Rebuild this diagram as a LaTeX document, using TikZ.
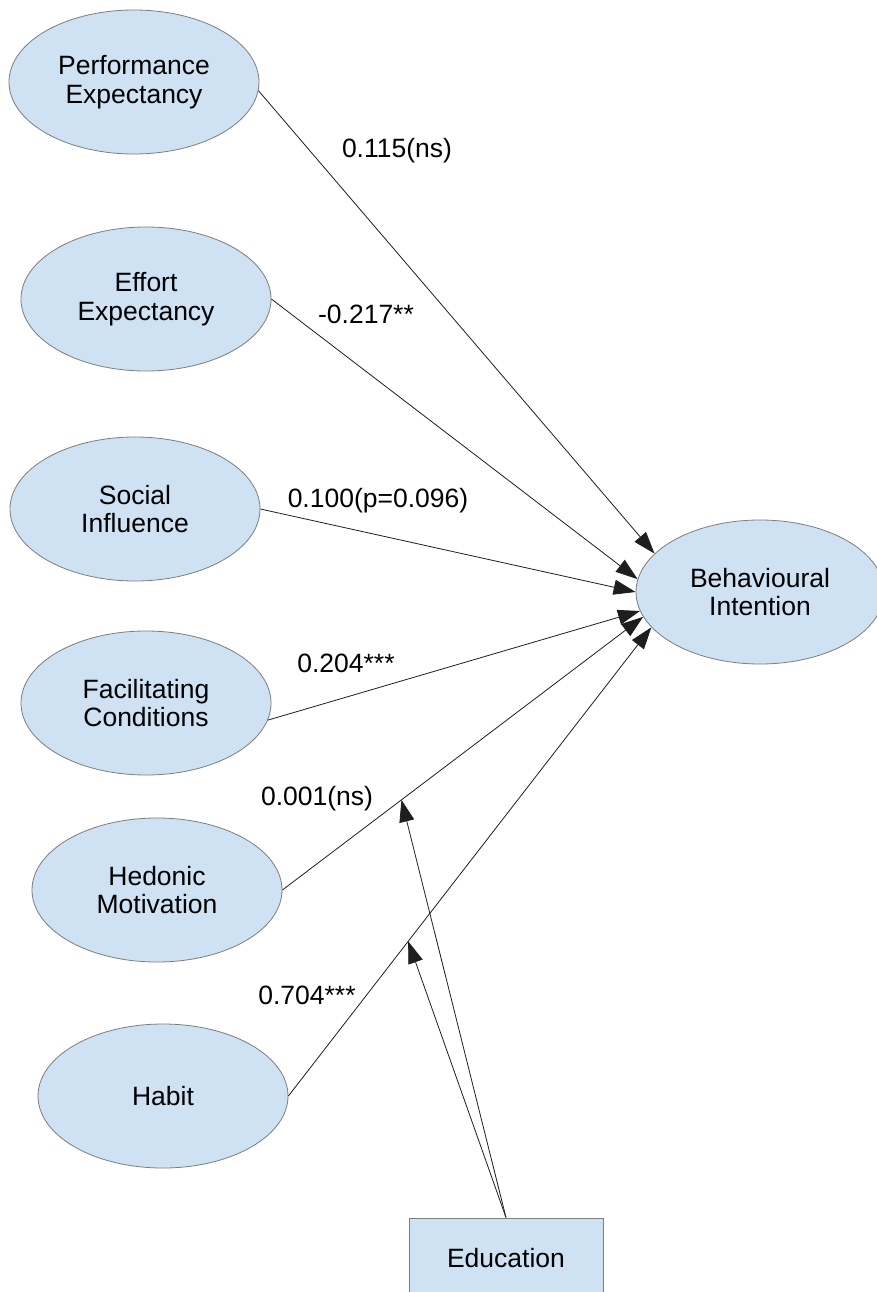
\documentclass[tikz,border=0pt]{standalone}
\usepackage{fontspec}
\setmainfont{Liberation Sans}
\usetikzlibrary{arrows.meta,shapes.geometric}

\definecolor{nodefill}{RGB}{207,226,243}
\definecolor{edgegray}{RGB}{125,125,125}
\definecolor{linegray}{RGB}{30,30,30}
\newcommand{\diagfont}{\fontsize{26.5}{28.5}\selectfont}

\begin{document}
\begin{tikzpicture}[x=1pt,y=-1pt,
  construct/.style={ellipse, draw=edgegray, line width=0.8pt, fill=nodefill,
    minimum width=250pt, minimum height=144pt, inner sep=0pt,
    align=center, font=\diagfont},
  moderator/.style={rectangle, draw=edgegray, line width=0.8pt, fill=nodefill,
    minimum width=194pt, minimum height=80pt, inner sep=0pt, font=\diagfont},
  coef/.style={font=\diagfont, inner sep=0pt, anchor=base},
  path/.style={draw=linegray, line width=0.8pt,
    -{Triangle[length=22pt,width=15pt]}}
]
\useasboundingbox (0,0) rectangle (877,1292);
\fill[white] (0,0) rectangle (877,1292);

% latent constructs
\node[construct] (pe) at (134,82)   {Performance\\Expectancy};
\node[construct] (ee) at (146,299)  {Effort\\Expectancy};
\node[construct] (si) at (135,509)  {Social\\Influence};
\node[construct] (fc) at (146,703)  {Facilitating\\Conditions};
\node[construct] (hm) at (157,890)  {Hedonic\\Motivation};
\node[construct] (hb) at (163,1096) {Habit};
\node[construct, minimum width=248pt] (bi) at (760,592) {Behavioural\\Intention};

% moderator
\node[moderator] (edu) at (506,1258) {Education};

% structural paths
\draw[path] (pe.-4)  -- (bi.160);
\draw[path] (ee.east) -- (bi.174);
\draw[path] (si.east) -- (bi.180);
\draw[path] (fc.-8)  -- (bi.189);
\draw[path] (hm.east) -- (bi.192);
\draw[path] (hb.east) -- (bi.198);

% moderation targets on the two paths
\path (hm.east) -- (bi.192) coordinate[pos=0.33] (hmMod);
\path (hb.east) -- (bi.198) coordinate[pos=0.33] (hbMod);
\draw[path] (edu.north) -- (hmMod);
\draw[path] (edu.north) -- (hbMod);

% path coefficients
\node[coef] (c1) at (397,158)  {0.115(ns)};
\node[coef] (c2) at (366,323)  {-0.217**};
\node[coef] (c3) at (378,507)  {0.100(p=0.096)};
\node[coef] (c4) at (346,672)  {0.204***};
\node[coef] (c5) at (317,805)  {0.001(ns)};
\node[coef] (c6) at (307,1004) {0.704***};
\end{tikzpicture}
\end{document}
